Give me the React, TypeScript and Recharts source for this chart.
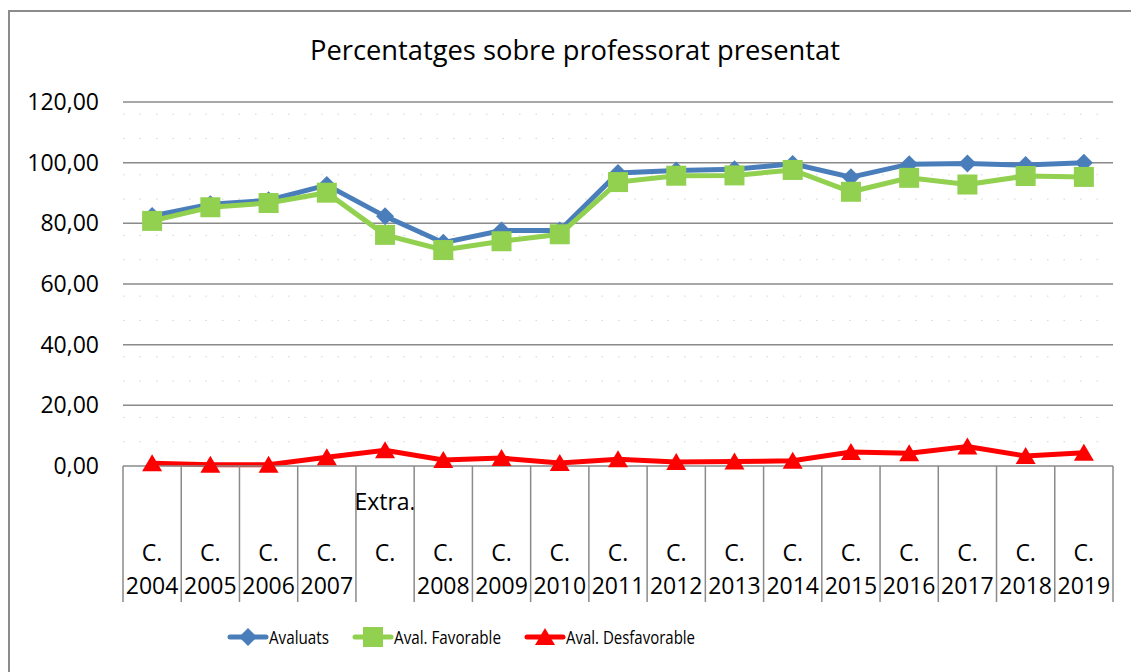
import { CartesianGrid, Legend, Line, LineChart, XAxis, YAxis } from 'recharts';

const categories = [
  'C. 2004', 'C. 2005', 'C. 2006', 'C. 2007', 'Extra. C.', 'C. 2008', 'C. 2009', 'C. 2010', 'C. 2011',
  'C. 2012', 'C. 2013', 'C. 2014', 'C. 2015', 'C. 2016', 'C. 2017', 'C. 2018', 'C. 2019',
];

// label lines per category (Excel wraps them into three rows)
const tickLines: string[][] = [
  ['', 'C.', '2004'], ['', 'C.', '2005'], ['', 'C.', '2006'], ['', 'C.', '2007'], ['Extra.', 'C.', ''],
  ['', 'C.', '2008'], ['', 'C.', '2009'], ['', 'C.', '2010'], ['', 'C.', '2011'], ['', 'C.', '2012'],
  ['', 'C.', '2013'], ['', 'C.', '2014'], ['', 'C.', '2015'], ['', 'C.', '2016'], ['', 'C.', '2017'],
  ['', 'C.', '2018'], ['', 'C.', '2019'],
];

const avaluats = [82.4, 86.3, 87.6, 92.6, 82.3, 73.6, 77.6, 77.6, 96.6, 97.4, 97.8, 99.6, 95.2, 99.5, 99.7, 99.2, 100.0];
const favorable = [80.8, 85.3, 86.7, 90.1, 76.2, 71.2, 74.1, 76.4, 93.6, 95.7, 95.8, 97.6, 90.4, 95.0, 92.8, 95.6, 95.3];
const desfavorable = [0.9, 0.4, 0.4, 2.9, 5.2, 2.0, 2.6, 1.0, 2.2, 1.3, 1.5, 1.7, 4.6, 4.2, 6.4, 3.3, 4.4];

const yTicks = [0, 20, 40, 60, 80, 100, 120];
const majorLines = [20, 40, 60, 80, 100, 120];
const minorLines = [4, 8, 12, 16, 24, 28, 32, 36, 44, 48, 52, 56, 64, 68, 72, 76, 84, 88, 92, 96, 104, 108, 112, 116];

const data = categories.map((cat, i) => ({
  cat,
  avaluats: avaluats[i],
  favorable: favorable[i],
  desfavorable: desfavorable[i],
}));

const BLUE = '#4a7ebb';
const GREEN = '#92d050';
const RED = '#ff0000';
const GRID = '#8a8a8a';
const FONT = "'Open Sans', sans-serif";

const Diamond = ({ cx, cy, fill }: any) => (
  <polygon points={`${cx},${cy - 9} ${cx + 9},${cy} ${cx},${cy + 9} ${cx - 9},${cy}`} fill={fill} />
);
const Square = ({ cx, cy, fill }: any) => <rect x={cx - 10} y={cy - 10} width={20} height={20} fill={fill} />;
const Triangle = ({ cx, cy, fill }: any) => (
  <polygon points={`${cx},${cy - 9} ${cx + 10},${cy + 8} ${cx - 10},${cy + 8}`} fill={fill} />
);

function CategoryTick(props: any) {
  const { x, y, payload, index } = props;
  const half = payload?.offset || 990 / categories.length / 2;
  const lines = tickLines[index] || ['', '', ''];
  const isLast = index === categories.length - 1;
  return (
    <g>
      <line x1={x - half} x2={x - half} y1={y} y2={y + 136} stroke={GRID} strokeWidth={1.5} />
      {isLast && <line x1={x + half} x2={x + half} y1={y} y2={y + 136} stroke={GRID} strokeWidth={1.5} />}
      <text x={x} y={y + 44} textAnchor="middle" fontSize={23} fontFamily={FONT} fill="#000">{lines[0]}</text>
      <text x={x} y={y + 95} textAnchor="middle" fontSize={23} fontFamily={FONT} fill="#000">{lines[1]}</text>
      <text x={x} y={y + 128} textAnchor="middle" fontSize={23} fontFamily={FONT} fill="#000">{lines[2]}</text>
    </g>
  );
}

// legend text is narrow in the original (Calibri), squeeze it to the same widths
const legendItems = [
  { name: 'Avaluats', color: BLUE, Marker: Diamond, textWidth: 60 },
  { name: 'Aval. Favorable', color: GREEN, Marker: Square, textWidth: 107 },
  { name: 'Aval. Desfavorable', color: RED, Marker: Triangle, textWidth: 129 },
];
const SLACK = 45;

function LegendContent() {
  return (
    <div style={{ display: 'flex', alignItems: 'center', gap: 23 }}>
      {legendItems.map(({ name, color, Marker, textWidth }) => (
        <svg
          key={name}
          width={42 + textWidth + SLACK}
          height={26}
          style={{ display: 'block', overflow: 'visible', marginRight: -SLACK }}
        >
          <line x1={2} x2={38} y1={13} y2={13} stroke={color} strokeWidth={5} strokeLinecap="round" />
          <Marker cx={20} cy={13} fill={color} />
          <text
            x={41}
            y={20}
            fontSize={19}
            fontFamily={FONT}
            fill="#000"
            textLength={textWidth}
            lengthAdjust="spacingAndGlyphs"
          >
            {name}
          </text>
        </svg>
      ))}
    </div>
  );
}

export default function App() {
  return (
    <div style={{ position: 'absolute', left: 0, top: 0, width: 1131, height: 672, overflow: 'hidden', background: '#fff' }}>
      <div
        style={{
          position: 'absolute', left: 8, top: 10, width: 1140, height: 680,
          border: '2px solid #8c8c8c', boxSizing: 'border-box',
        }}
      />
      <div
        style={{
          position: 'absolute', left: 0, top: 31, width: 1150, textAlign: 'center',
          fontFamily: FONT, fontSize: 27.3, color: '#000',
        }}
      >
        Percentatges sobre professorat presentat
      </div>
      <LineChart width={1131} height={672} data={data} margin={{ top: 102, right: 18, left: 0, bottom: 0 }}>
        <CartesianGrid horizontalValues={minorLines} vertical={false} stroke="#d4d4d4" strokeDasharray="1.5 15" />
        <CartesianGrid horizontalValues={majorLines} vertical={false} stroke={GRID} strokeWidth={1.5} />
        <XAxis
          dataKey="cat"
          scale="band"
          height={206}
          interval={0}
          tickLine={false}
          tickSize={0}
          tickMargin={0}
          axisLine={{ stroke: GRID, strokeWidth: 1.5 }}
          tick={<CategoryTick />}
        />
        <YAxis
          width={123}
          domain={[0, 120]}
          ticks={yTicks}
          axisLine={false}
          tickLine={false}
          tickSize={0}
          tickMargin={24}
          tick={{ fill: '#000', fontSize: 23, fontFamily: FONT }}
          tickFormatter={(v: number) => v.toFixed(2).replace('.', ',')}
        />
        <Legend
          layout="horizontal"
          verticalAlign="middle"
          align="center"
          wrapperStyle={{ left: 228, top: 624, width: 'auto' }}
          content={<LegendContent />}
        />
        <Line
          dataKey="avaluats"
          name="Avaluats"
          stroke={BLUE}
          strokeWidth={5}
          dot={<Diamond fill={BLUE} />}
          activeDot={false}
          isAnimationActive={false}
        />
        <Line
          dataKey="favorable"
          name="Aval. Favorable"
          stroke={GREEN}
          strokeWidth={5}
          dot={<Square fill={GREEN} />}
          activeDot={false}
          isAnimationActive={false}
        />
        <Line
          dataKey="desfavorable"
          name="Aval. Desfavorable"
          stroke={RED}
          strokeWidth={5}
          dot={<Triangle fill={RED} />}
          activeDot={false}
          isAnimationActive={false}
        />
      </LineChart>
    </div>
  );
}
